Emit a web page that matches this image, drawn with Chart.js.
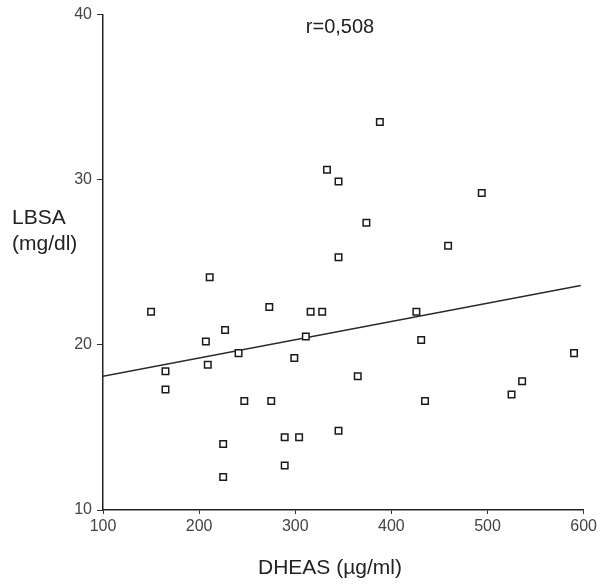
<!DOCTYPE html>
<html>
<head>
<meta charset="utf-8">
<script src="https://cdn.jsdelivr.net/npm/chart.js@4"></script>
<style>
body{margin:0;background:#fff;}
#wrap{width:600px;height:586px;}
</style>
</head>
<body>
<div id="wrap"><canvas id="scatterChart" width="600" height="586"></canvas></div>
<script>
/* DATA */
const dheas = [150,165,165,207,209,211,227,225,225,241,247,273,275,289,289,299,304,311,316,328,333,345,345,345,365,374,388,426,431,435,459,494,525,536,590];
const lbsa  = [22.0,18.4,17.3,20.2,18.8,24.1,20.9,14.0,12.0,19.5,16.6,22.3,16.6,14.4,12.7,19.2,14.4,20.5,22.0,22.0,30.6,29.9,25.3,14.8,18.1,27.4,33.5,22.0,20.3,16.6,26.0,29.2,17.0,17.8,19.5];
const fitX = [100,597];
const fitY = [18.1,23.6];
const xTicks = [100,200,300,400,500,600];
const yTicks = [10,20,30,40];

/* TEXT LABELS */
const textLabels = {
id:'textLabels',
afterDraw(chart){
const ctx = chart.ctx;
ctx.save();
ctx.fillStyle = '#222';
ctx.font = '21px "Liberation Sans", Arial, sans-serif';
ctx.textAlign = 'left';
ctx.textBaseline = 'middle';
ctx.fillText('LBSA', 12, 218);
ctx.fillText('(mg/dl)', 12, 244);
ctx.textAlign = 'center';
ctx.fillText('DHEAS (µg/ml)', 330, 568);
ctx.font = '20px "Liberation Sans", Arial, sans-serif';
ctx.fillText('r=0,508', 340, 27);
ctx.restore();
}
};

/* SCATTER CHART */
const scatterChart = new Chart(
document.getElementById('scatterChart'),
{
type:'scatter',
data:{
datasets:[
{
data: dheas.map((x,i)=>({x:x, y:lbsa[i]})),
pointStyle:'rect',
pointRadius:4.6,
pointBorderWidth:1.5,
pointBorderColor:'#1a1a1a',
pointBackgroundColor:'#fff'
},
{
type:'line',
data: fitX.map((x,i)=>({x:x, y:fitY[i]})),
borderColor:'#2a2a2a',
borderWidth:1.5,
pointRadius:0
}
]
},
options:{
responsive:false,
animation:false,
layout:{padding:{left:0,right:14,top:12,bottom:0}},
plugins:{legend:{display:false},tooltip:{enabled:false}},
scales:{
x:{
type:'linear',
min:100,
max:600,
afterBuildTicks:s=>{s.ticks = xTicks.map(v=>({value:v}));},
afterFit:s=>{s.height = 76;},
grid:{drawOnChartArea:false,drawTicks:true,tickLength:4,color:'#333'},
border:{display:true,color:'#222',width:1.5},
ticks:{padding:3,color:'#444',font:{size:16,family:'"Liberation Sans", Arial, sans-serif'},maxRotation:0}
},
y:{
min:10,
max:40,
afterBuildTicks:s=>{s.ticks = yTicks.map(v=>({value:v}));},
afterFit:s=>{s.width = 103;},
grid:{drawOnChartArea:false,drawTicks:true,tickLength:6,color:'#333'},
border:{display:true,color:'#222',width:1.5},
ticks:{padding:5,color:'#444',font:{size:16,family:'"Liberation Sans", Arial, sans-serif'}}
}
}
},
plugins:[textLabels]
}
);
</script>
</body>
</html>
